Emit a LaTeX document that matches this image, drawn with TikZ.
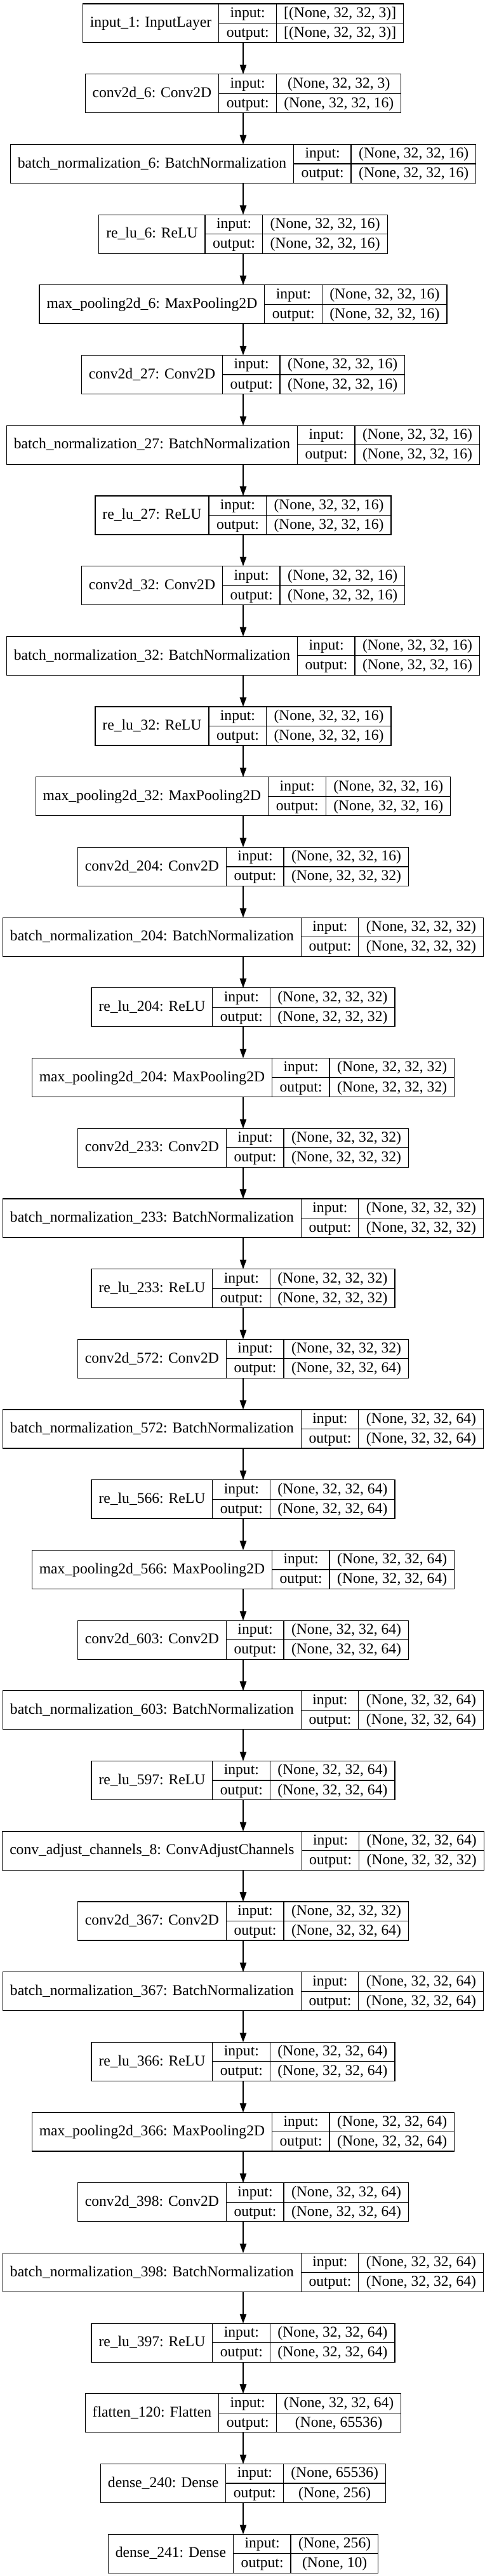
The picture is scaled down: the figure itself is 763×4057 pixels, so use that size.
\documentclass[tikz,border=0pt]{standalone}
\usepackage{fontspec}
\setmainfont{Liberation Serif}
\usetikzlibrary{arrows.meta,positioning}
\setlength{\arrayrulewidth}{1.2pt}
\newcommand{\rowstrut}{\rule[-8.5pt]{0pt}{29.9pt}}
\newcommand{\layerbox}[3]{%
\begin{tabular}{@{\hspace{11.5pt}}c@{\hspace{11.5pt}}|@{}c@{}}
#1 &
\begin{tabular}{@{\hspace{11.5pt}}c@{\hspace{11.5pt}}|@{\hspace{11.5pt}}c@{\hspace{11.5pt}}}
\rowstrut input: & #2\\ \hline
\rowstrut output: & #3
\end{tabular}
\end{tabular}}
\tikzset{
  layer/.style={draw=black, line width=1.2pt, inner sep=0pt, outer sep=0pt, font=\fontsize{23.6}{28}\selectfont},
  flow/.style={-{Triangle[length=14.7pt,width=10.5pt]}, line width=1.2pt},
  node distance=49.7pt
}
\begin{document}
\begin{tikzpicture}
\useasboundingbox (-383pt,0pt) rectangle (380pt,-4057pt);
\node[layer, anchor=north] (in1) at (0pt,-6pt) {\layerbox{input\_1: InputLayer}{[(None, 32, 32, 3)]}{[(None, 32, 32, 3)]}};
\node[layer, below=of in1] (cv6) {\layerbox{conv2d\_6: Conv2D}{(None, 32, 32, 3)}{(None, 32, 32, 16)}};
\node[layer, below=of cv6] (bn6) {\layerbox{batch\_normalization\_6: BatchNormalization}{(None, 32, 32, 16)}{(None, 32, 32, 16)}};
\node[layer, below=of bn6] (re6) {\layerbox{re\_lu\_6: ReLU}{(None, 32, 32, 16)}{(None, 32, 32, 16)}};
\node[layer, below=of re6] (mp6) {\layerbox{max\_pooling2d\_6: MaxPooling2D}{(None, 32, 32, 16)}{(None, 32, 32, 16)}};
\node[layer, below=of mp6] (cv27) {\layerbox{conv2d\_27: Conv2D}{(None, 32, 32, 16)}{(None, 32, 32, 16)}};
\node[layer, below=of cv27] (bn27) {\layerbox{batch\_normalization\_27: BatchNormalization}{(None, 32, 32, 16)}{(None, 32, 32, 16)}};
\node[layer, below=of bn27] (re27) {\layerbox{re\_lu\_27: ReLU}{(None, 32, 32, 16)}{(None, 32, 32, 16)}};
\node[layer, below=of re27] (cv32) {\layerbox{conv2d\_32: Conv2D}{(None, 32, 32, 16)}{(None, 32, 32, 16)}};
\node[layer, below=of cv32] (bn32) {\layerbox{batch\_normalization\_32: BatchNormalization}{(None, 32, 32, 16)}{(None, 32, 32, 16)}};
\node[layer, below=of bn32] (re32) {\layerbox{re\_lu\_32: ReLU}{(None, 32, 32, 16)}{(None, 32, 32, 16)}};
\node[layer, below=of re32] (mp32) {\layerbox{max\_pooling2d\_32: MaxPooling2D}{(None, 32, 32, 16)}{(None, 32, 32, 16)}};
\node[layer, below=of mp32] (cv204) {\layerbox{conv2d\_204: Conv2D}{(None, 32, 32, 16)}{(None, 32, 32, 32)}};
\node[layer, below=of cv204] (bn204) {\layerbox{batch\_normalization\_204: BatchNormalization}{(None, 32, 32, 32)}{(None, 32, 32, 32)}};
\node[layer, below=of bn204] (re204) {\layerbox{re\_lu\_204: ReLU}{(None, 32, 32, 32)}{(None, 32, 32, 32)}};
\node[layer, below=of re204] (mp204) {\layerbox{max\_pooling2d\_204: MaxPooling2D}{(None, 32, 32, 32)}{(None, 32, 32, 32)}};
\node[layer, below=of mp204] (cv233) {\layerbox{conv2d\_233: Conv2D}{(None, 32, 32, 32)}{(None, 32, 32, 32)}};
\node[layer, below=of cv233] (bn233) {\layerbox{batch\_normalization\_233: BatchNormalization}{(None, 32, 32, 32)}{(None, 32, 32, 32)}};
\node[layer, below=of bn233] (re233) {\layerbox{re\_lu\_233: ReLU}{(None, 32, 32, 32)}{(None, 32, 32, 32)}};
\node[layer, below=of re233] (cv572) {\layerbox{conv2d\_572: Conv2D}{(None, 32, 32, 32)}{(None, 32, 32, 64)}};
\node[layer, below=of cv572] (bn572) {\layerbox{batch\_normalization\_572: BatchNormalization}{(None, 32, 32, 64)}{(None, 32, 32, 64)}};
\node[layer, below=of bn572] (re566) {\layerbox{re\_lu\_566: ReLU}{(None, 32, 32, 64)}{(None, 32, 32, 64)}};
\node[layer, below=of re566] (mp566) {\layerbox{max\_pooling2d\_566: MaxPooling2D}{(None, 32, 32, 64)}{(None, 32, 32, 64)}};
\node[layer, below=of mp566] (cv603) {\layerbox{conv2d\_603: Conv2D}{(None, 32, 32, 64)}{(None, 32, 32, 64)}};
\node[layer, below=of cv603] (bn603) {\layerbox{batch\_normalization\_603: BatchNormalization}{(None, 32, 32, 64)}{(None, 32, 32, 64)}};
\node[layer, below=of bn603] (re597) {\layerbox{re\_lu\_597: ReLU}{(None, 32, 32, 64)}{(None, 32, 32, 64)}};
\node[layer, below=of re597] (adj8) {\layerbox{conv\_adjust\_channels\_8: ConvAdjustChannels}{(None, 32, 32, 64)}{(None, 32, 32, 32)}};
\node[layer, below=of adj8] (cv367) {\layerbox{conv2d\_367: Conv2D}{(None, 32, 32, 32)}{(None, 32, 32, 64)}};
\node[layer, below=of cv367] (bn367) {\layerbox{batch\_normalization\_367: BatchNormalization}{(None, 32, 32, 64)}{(None, 32, 32, 64)}};
\node[layer, below=of bn367] (re366) {\layerbox{re\_lu\_366: ReLU}{(None, 32, 32, 64)}{(None, 32, 32, 64)}};
\node[layer, below=of re366] (mp366) {\layerbox{max\_pooling2d\_366: MaxPooling2D}{(None, 32, 32, 64)}{(None, 32, 32, 64)}};
\node[layer, below=of mp366] (cv398) {\layerbox{conv2d\_398: Conv2D}{(None, 32, 32, 64)}{(None, 32, 32, 64)}};
\node[layer, below=of cv398] (bn398) {\layerbox{batch\_normalization\_398: BatchNormalization}{(None, 32, 32, 64)}{(None, 32, 32, 64)}};
\node[layer, below=of bn398] (re397) {\layerbox{re\_lu\_397: ReLU}{(None, 32, 32, 64)}{(None, 32, 32, 64)}};
\node[layer, below=of re397] (fl120) {\layerbox{flatten\_120: Flatten}{(None, 32, 32, 64)}{(None, 65536)}};
\node[layer, below=of fl120] (de240) {\layerbox{dense\_240: Dense}{(None, 65536)}{(None, 256)}};
\node[layer, below=of de240] (de241) {\layerbox{dense\_241: Dense}{(None, 256)}{(None, 10)}};
\draw[flow] (in1) -- (cv6);
\draw[flow] (cv6) -- (bn6);
\draw[flow] (bn6) -- (re6);
\draw[flow] (re6) -- (mp6);
\draw[flow] (mp6) -- (cv27);
\draw[flow] (cv27) -- (bn27);
\draw[flow] (bn27) -- (re27);
\draw[flow] (re27) -- (cv32);
\draw[flow] (cv32) -- (bn32);
\draw[flow] (bn32) -- (re32);
\draw[flow] (re32) -- (mp32);
\draw[flow] (mp32) -- (cv204);
\draw[flow] (cv204) -- (bn204);
\draw[flow] (bn204) -- (re204);
\draw[flow] (re204) -- (mp204);
\draw[flow] (mp204) -- (cv233);
\draw[flow] (cv233) -- (bn233);
\draw[flow] (bn233) -- (re233);
\draw[flow] (re233) -- (cv572);
\draw[flow] (cv572) -- (bn572);
\draw[flow] (bn572) -- (re566);
\draw[flow] (re566) -- (mp566);
\draw[flow] (mp566) -- (cv603);
\draw[flow] (cv603) -- (bn603);
\draw[flow] (bn603) -- (re597);
\draw[flow] (re597) -- (adj8);
\draw[flow] (adj8) -- (cv367);
\draw[flow] (cv367) -- (bn367);
\draw[flow] (bn367) -- (re366);
\draw[flow] (re366) -- (mp366);
\draw[flow] (mp366) -- (cv398);
\draw[flow] (cv398) -- (bn398);
\draw[flow] (bn398) -- (re397);
\draw[flow] (re397) -- (fl120);
\draw[flow] (fl120) -- (de240);
\draw[flow] (de240) -- (de241);
\end{tikzpicture}
\end{document}
